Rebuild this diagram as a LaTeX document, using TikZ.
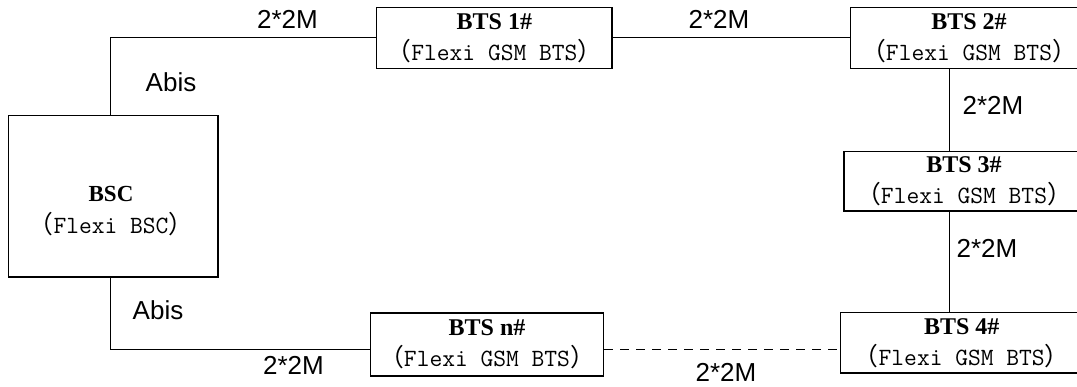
\documentclass[tikz,border=0pt]{standalone}
\usepackage{fontspec}
\setsansfont{Liberation Sans}
\newfontfamily\cjk{Noto Sans CJK SC}
\newfontfamily\titlefont{Liberation Serif}

\begin{document}
\begin{tikzpicture}[
      x=1pt, y=-1pt,
      station/.style={draw, line width=1.4pt, minimum height=61pt, inner sep=0pt,
        align=center, font=\titlefont\bfseries\fontsize{24}{31}\selectfont},
      rate/.style={anchor=base, font=\fontsize{26}{30}\selectfont\sffamily},
      link/.style={line width=1.4pt},
  ]
    \useasboundingbox (0,0) rectangle (1077,387);
    \clip (0,0) rectangle (1077,387);

    \node[station, minimum width=209.7pt, minimum height=161.3pt] (bsc) at (113.2,196.4) {};
    \node[align=center, font=\titlefont\bfseries\fontsize{23}{32}\selectfont] (bsctext) at (111,211)
      {BSC\\{\mdseries\ttfamily\fontsize{24.8}{32}\selectfont{\cjk （}Flexi BSC{\cjk ）}}};

    \node[station, minimum width=235.3pt] (bts1) at (494.4,37.8)
      {BTS 1\#\\{\mdseries\ttfamily\fontsize{24.8}{31}\selectfont{\cjk （}Flexi GSM BTS{\cjk ）}}};
    \node[station, minimum width=236.6pt] (bts2) at (969,37.8)
      {BTS 2\#\\{\mdseries\ttfamily\fontsize{24.8}{31}\selectfont{\cjk （}Flexi GSM BTS{\cjk ）}}};
    \node[station, minimum width=240pt, minimum height=59.5pt] (bts3) at (964,181.2)
      {BTS 3\#\\{\mdseries\ttfamily\fontsize{24.8}{31}\selectfont{\cjk （}Flexi GSM BTS{\cjk ）}}};
    \node[station, minimum width=242pt, minimum height=60.3pt] (bts4) at (961.7,342.9)
      {BTS 4\#\\{\mdseries\ttfamily\fontsize{24.8}{31}\selectfont{\cjk （}Flexi GSM BTS{\cjk ）}}};
    \node[station, minimum width=232.6pt, minimum height=63pt] (btsn) at (487,344.5)
      {BTS n\#\\{\mdseries\ttfamily\fontsize{24.8}{31}\selectfont{\cjk （}Flexi GSM BTS{\cjk ）}}};

    % links
    \coordinate (trunk) at (949.5,0);
    \draw[link] ([xshift=-3pt]bsc.north) |- (bts1);
    \draw[link] (bts1) -- (bts2);
    \draw[link] (bts2.south -| trunk) -- (bts3.north -| trunk);
    \draw[link] (bts3.south -| trunk) -- (bts4.north -| trunk);
    \draw[link, dash pattern=on 9pt off 7pt] ([yshift=-5pt]btsn.east) -- ([yshift=-5pt]btsn.east -| bts4.west);
    \draw[link] ([xshift=-3pt]bsc.south) |- ([yshift=-5pt]btsn.west);

    % labels
    \node[rate] (abis1) at (171,91.7) {Abis};
    \node[rate] (abis2) at (158,319.3) {Abis};
    \node[rate] (rate1) at (287.5,28.3) {2*2M};
    \node[rate] (rate2) at (719,28.3) {2*2M};
    \node[rate] (rate3) at (993,115) {2*2M};
    \node[rate] (rate4) at (987,257.3) {2*2M};
    \node[rate] (rate5) at (293.5,375) {2*2M};
    \node[rate] (rate6) at (726,382) {2*2M};
  \end{tikzpicture}
\end{document}
